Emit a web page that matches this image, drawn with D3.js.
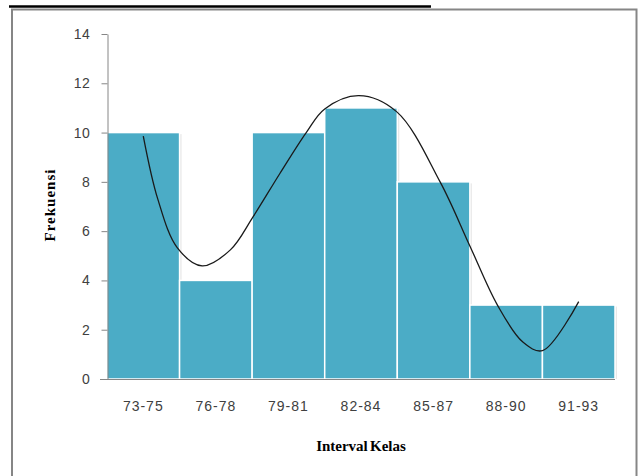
<!DOCTYPE html>
<html>
<head>
<meta charset="utf-8">
<script src="https://cdn.jsdelivr.net/npm/d3@7"></script>
<style>
  html, body { margin: 0; padding: 0; background: #ffffff; }
  svg { display: block; }
</style>
</head>
<body>
<svg id="chart" width="638" height="476"></svg>
<script>
// Histogram of class-interval frequencies with a smooth fitted curve
const categories = ["73-75", "76-78", "79-81", "82-84", "85-87", "88-90", "91-93"];
const frequencies = [10, 4, 10, 11, 8, 3, 3];
const yTicks = [0, 2, 4, 6, 8, 10, 12, 14];
// Curve samples: position in class units (0 = first class centre) and frequency
const curveX = [0, 0.2, 0.47, 0.81, 1.2, 1.51, 1.88, 2.25, 2.5, 2.97, 3.49, 4.09, 4.5, 4.88, 5.23, 5.5, 6.0];
const curveY = [9.86, 7.3, 5.32, 4.59, 5.24, 6.57, 8.33, 10.02, 10.96, 11.5, 10.85, 8.0, 5.4, 3.0, 1.5, 1.15, 3.14];

const svg = d3.select("#chart");

// Page rule above the chart box
svg.append("line")
  .attr("x1", 9).attr("x2", 431).attr("y1", 6.5).attr("y2", 6.5)
  .attr("stroke", "#000").attr("stroke-width", 2.5);

// Chart box outline
svg.append("rect")
  .attr("x", 12).attr("y", 9.5).attr("width", 624.5).attr("height", 480)
  .attr("fill", "#fff").attr("stroke", "#868686").attr("stroke-width", 2);

const x = d3.scaleBand().domain(categories).range([107, 615]).paddingInner(0).paddingOuter(0);
const y = d3.scaleLinear().domain([0, 14]).range([379, 34]);
const xc = d3.scaleLinear().domain([0, categories.length - 1])
  .range([x(categories[0]) + x.bandwidth() / 2, x(categories[categories.length - 1]) + x.bandwidth() / 2]);

// Soft shadow behind bars
svg.append("g").selectAll("rect")
  .data(frequencies)
  .join("rect")
  .attr("x", (d, i) => x(categories[i]) + 2)
  .attr("y", d => y(d) + 1.5)
  .attr("width", x.bandwidth())
  .attr("height", d => y(0) - y(d) - 1.5)
  .attr("fill", "#d9d9d9")
  .attr("opacity", 0.6);

// Bars
svg.append("g").selectAll("rect")
  .data(frequencies)
  .join("rect")
  .attr("x", (d, i) => x(categories[i]))
  .attr("y", d => y(d))
  .attr("width", x.bandwidth())
  .attr("height", d => y(0) - y(d))
  .attr("fill", "#4bacc6")
  .attr("stroke", "#ffffff")
  .attr("stroke-width", 1.5);

// Y axis
const yAxis = d3.axisLeft(y).tickValues(yTicks).tickSize(6).tickPadding(11).tickSizeOuter(0);
const gy = svg.append("g").attr("transform", "translate(107.5,0)").call(yAxis);
gy.select(".domain").attr("stroke", "#868686");
gy.selectAll(".tick line").attr("stroke", "#868686");
gy.selectAll(".tick text")
  .attr("fill", "#404040")
  .style("font-family", "'Liberation Sans', Arial, sans-serif")
  .style("font-size", "14px")
  .style("letter-spacing", "0.6px");

// X axis
const xAxis = d3.axisBottom(x).tickSize(0).tickPadding(22).tickSizeOuter(0);
const gx = svg.append("g").attr("transform", "translate(0,379.5)").call(xAxis);
gx.select(".domain").attr("stroke", "#868686").attr("d", "M100,0H615");
gx.selectAll(".tick text")
  .attr("fill", "#404040")
  .style("font-family", "'Liberation Sans', Arial, sans-serif")
  .style("font-size", "14px")
  .style("letter-spacing", "1px");

// Fitted curve
const pts = curveX.map((v, i) => [xc(v), y(curveY[i])]);
svg.append("path")
  .datum(pts)
  .attr("d", d3.line().curve(d3.curveCatmullRom.alpha(0.5)))
  .attr("fill", "none")
  .attr("stroke", "#1a1a1a")
  .attr("stroke-width", 1.3);

// Axis titles
svg.append("text")
  .attr("transform", "translate(55,205) rotate(-90)")
  .attr("text-anchor", "middle")
  .style("font-family", "'Liberation Serif', 'Times New Roman', serif")
  .style("font-weight", "bold")
  .style("font-size", "15px")
  .style("letter-spacing", "1px")
  .attr("fill", "#000")
  .text("Frekuensi");

svg.append("text")
  .attr("x", 361).attr("y", 451)
  .attr("text-anchor", "middle")
  .style("font-family", "'Liberation Serif', 'Times New Roman', serif")
  .style("font-weight", "bold")
  .style("font-size", "15px")
  .style("word-spacing", "-1.5px")
  .attr("fill", "#000")
  .text("Interval Kelas");
</script>
</body>
</html>
